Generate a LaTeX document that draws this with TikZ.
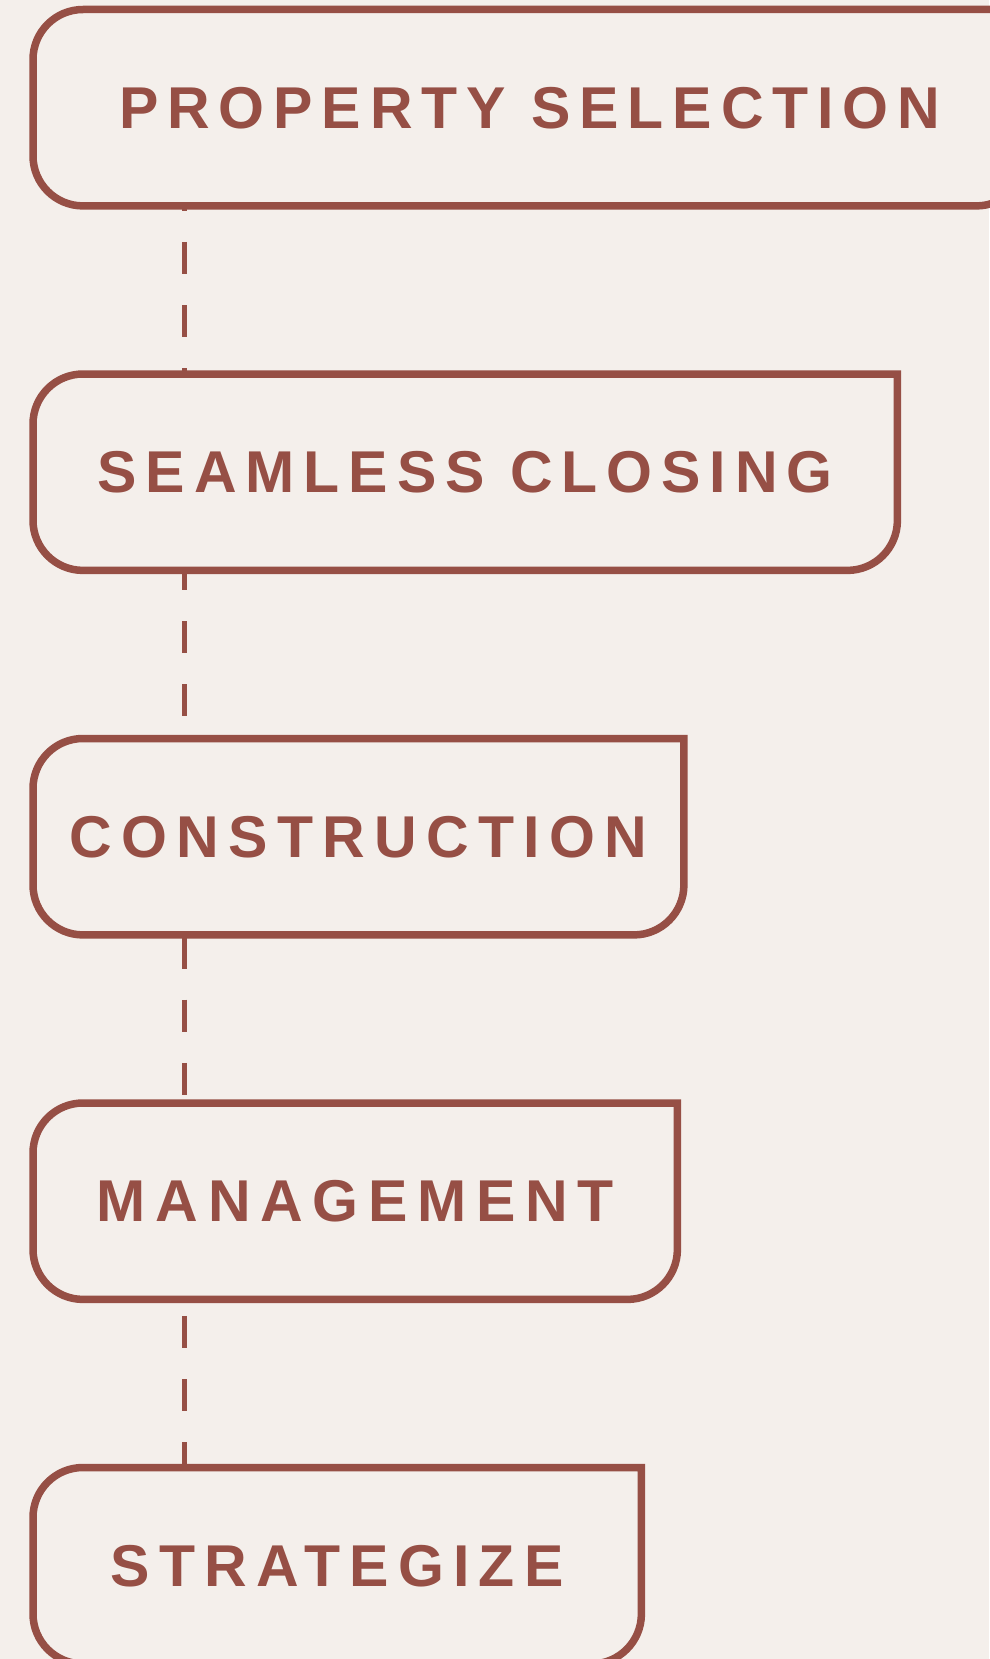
\documentclass[tikz,border=0pt]{standalone}
\usepackage{fontspec}
\newfontfamily\stagefont{Liberation Sans}
\usetikzlibrary{backgrounds}
\definecolor{paper}{HTML}{F4EFEB}
\definecolor{brick}{HTML}{964F45}

\tikzset{
  stagebox/.style={draw=none, inner sep=0pt, minimum height=196pt,
    anchor=north west, text=brick,
    font=\stagefont\bfseries\fontsize{59}{59}\selectfont},
  frame/.style={draw=brick, line width=7.5pt, fill=paper, line join=miter},
  link/.style={draw=brick, line width=5pt, dash pattern=on 32pt off 31.15pt},
}

% outline of a stage: square top-right corner, the other three rounded
\newcommand\stageframe[1]{%
  \draw[frame] (#1.north east) -- ([xshift=50pt]#1.north west)
    arc[start angle=90, end angle=180, radius=50pt]
    -- ([yshift=50pt]#1.south west)
    arc[start angle=180, end angle=270, radius=50pt]
    -- ([xshift=-50pt]#1.south east)
    arc[start angle=270, end angle=360, radius=50pt]
    -- cycle;}

\begin{document}
\begin{tikzpicture}[x=1pt, y=1pt]
  \useasboundingbox (0,0) rectangle (989,-1659);
  \clip (0,0) rectangle (989,-1659);

  \node[stagebox, minimum width=993pt] (b1) at (33,-9.5)
    {\addfontfeatures{LetterSpace=15.1}PROPERTY SELECTION};
  \node[stagebox, minimum width=864pt] (b2) at (33,-374)
    {\addfontfeatures{LetterSpace=15.2}SEAMLESS CLOSING};
  \node[stagebox, minimum width=650.5pt] (b3) at (33,-738.5)
    {\addfontfeatures{LetterSpace=15.7}CONSTRUCTION};
  \node[stagebox, minimum width=644pt] (b4) at (33,-1103)
    {\addfontfeatures{LetterSpace=16.4}MANAGEMENT};
  \node[stagebox, minimum width=608pt] (b5) at (33,-1467.5)
    {\addfontfeatures{LetterSpace=15.7}STRATEGIZE};

  \coordinate (spine) at (184,0);

  \begin{scope}[on background layer]
    \fill[paper] (0,0) rectangle (989,-1659);
    % dashed spine between consecutive stages, phase kept continuous
    \draw[link, dash phase=27.15pt] (spine |- b1.south) -- (spine |- b2.north);
    \draw[link, dash phase=12.25pt] (spine |- b2.south) -- (spine |- b3.north);
    \draw[link, dash phase=61.5pt]  (spine |- b3.south) -- (spine |- b4.north);
    \draw[link, dash phase=46.6pt]  (spine |- b4.south) -- (spine |- b5.north);
    \stageframe{b1}
    \stageframe{b2}
    \stageframe{b3}
    \stageframe{b4}
    \stageframe{b5}
  \end{scope}
\end{tikzpicture}
\end{document}
